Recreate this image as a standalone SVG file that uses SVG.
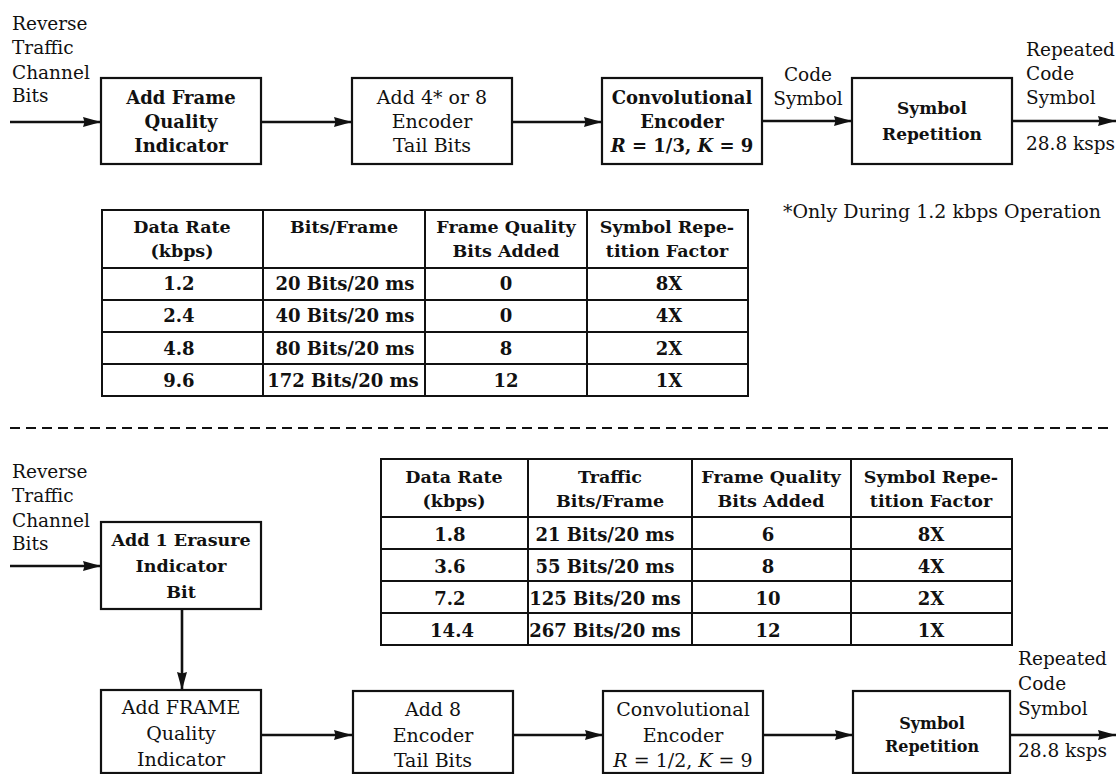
<svg xmlns="http://www.w3.org/2000/svg" width="1117" height="774" viewBox="0 0 1117 774">
<style>
text{font-family:"DejaVu Serif","Liberation Serif",serif;fill:#111}
.lbl{font-size:18.5px}
.bx{font-size:19px;text-anchor:middle}
.bxb{font-size:18px;font-weight:bold;text-anchor:middle}
.th{font-size:17.5px;font-weight:bold;text-anchor:middle}
.td{font-size:18px;font-weight:bold;text-anchor:middle}
.box{fill:#fff;stroke:#111;stroke-width:2.2}
.grid{fill:none;stroke:#111;stroke-width:2}
.conn{stroke:#111;stroke-width:2.6;fill:none}
.dash{stroke:#111;stroke-width:2.2;stroke-dasharray:10 6}
</style>
<defs>
<marker id="arr" markerUnits="userSpaceOnUse" markerWidth="20" markerHeight="11" refX="18" refY="5" orient="auto">
<path d="M0,0 L18,5 L0,10 L1.5,5 z" fill="#111"/>
</marker>
</defs>

<g id="connectors">
<line class="conn" x1="10" y1="122" x2="101" y2="122" marker-end="url(#arr)"/>
<line class="conn" x1="261" y1="122" x2="352" y2="122" marker-end="url(#arr)"/>
<line class="conn" x1="512" y1="122" x2="602" y2="122" marker-end="url(#arr)"/>
<line class="conn" x1="762" y1="121" x2="852" y2="121" marker-end="url(#arr)"/>
<line class="conn" x1="1012" y1="121" x2="1116" y2="121" marker-end="url(#arr)"/>
<line class="conn" x1="10" y1="566" x2="101" y2="566" marker-end="url(#arr)"/>
<line class="conn" x1="182" y1="609" x2="182" y2="690" marker-end="url(#arr)"/>
<line class="conn" x1="261" y1="735" x2="352" y2="735" marker-end="url(#arr)"/>
<line class="conn" x1="513" y1="735" x2="603" y2="735" marker-end="url(#arr)"/>
<line class="conn" x1="763" y1="735" x2="853" y2="735" marker-end="url(#arr)"/>
<line class="conn" x1="1010" y1="735" x2="1116" y2="735" marker-end="url(#arr)"/>
</g>

<g id="labels">
<text class="lbl" x="12" y="30">Reverse</text>
<text class="lbl" x="12" y="54">Traffic</text>
<text class="lbl" x="12" y="79">Channel</text>
<text class="lbl" x="12" y="102">Bits</text>
<text class="lbl" x="808" y="81" text-anchor="middle">Code</text>
<text class="lbl" x="808" y="105" text-anchor="middle">Symbol</text>
<text class="lbl" x="1026" y="56">Repeated</text>
<text class="lbl" x="1026" y="80">Code</text>
<text class="lbl" x="1026" y="104">Symbol</text>
<text class="lbl" x="1026" y="150">28.8 ksps</text>
<text class="lbl" x="783" y="218" style="font-size:19px">*Only During 1.2 kbps Operation</text>
<text class="lbl" x="12" y="478">Reverse</text>
<text class="lbl" x="12" y="502">Traffic</text>
<text class="lbl" x="12" y="527">Channel</text>
<text class="lbl" x="12" y="550">Bits</text>
<text class="lbl" x="1018" y="665">Repeated</text>
<text class="lbl" x="1018" y="690">Code</text>
<text class="lbl" x="1018" y="715">Symbol</text>
<text class="lbl" x="1018" y="757">28.8 ksps</text>
</g>

<line id="separator" class="dash" x1="10" y1="428" x2="1112" y2="428"/>

<g id="n-fqi-top">
<rect class="box" x="101" y="78" width="160" height="86"/>
<text class="bxb" x="181" y="104">Add Frame</text>
<text class="bxb" x="181" y="128">Quality</text>
<text class="bxb" x="181" y="152">Indicator</text>
</g>
<g id="n-tail-top">
<rect class="box" x="352" y="78" width="160" height="86"/>
<text class="bx" x="432" y="104">Add 4* or 8</text>
<text class="bx" x="432" y="128">Encoder</text>
<text class="bx" x="432" y="152">Tail Bits</text>
</g>
<g id="n-conv-top">
<rect class="box" x="602" y="78" width="160" height="86"/>
<text class="bxb" x="682" y="104">Convolutional</text>
<text class="bxb" x="682" y="128">Encoder</text>
<text class="bxb" x="682" y="152"><tspan font-style="italic">R</tspan> = 1/3, <tspan font-style="italic">K</tspan> = 9</text>
</g>
<g id="n-rep-top">
<rect class="box" x="852" y="78" width="160" height="86"/>
<text class="bxb" x="932" y="114" style="font-size:17px">Symbol</text>
<text class="bxb" x="932" y="140" style="font-size:17px">Repetition</text>
</g>

<g id="table-top">
<rect class="grid" x="102" y="210" width="646" height="186"/>
<line class="grid" x1="102" y1="268" x2="748" y2="268"/>
<line class="grid" x1="102" y1="300" x2="748" y2="300"/>
<line class="grid" x1="102" y1="332" x2="748" y2="332"/>
<line class="grid" x1="102" y1="364" x2="748" y2="364"/>
<line class="grid" x1="263" y1="210" x2="263" y2="396"/>
<line class="grid" x1="425" y1="210" x2="425" y2="396"/>
<line class="grid" x1="587" y1="210" x2="587" y2="396"/>
<text class="th" x="182" y="233">Data Rate</text>
<text class="th" x="182" y="257">(kbps)</text>
<text class="th" x="344" y="233">Bits/Frame</text>
<text class="th" x="506" y="233">Frame Quality</text>
<text class="th" x="506" y="257">Bits Added</text>
<text class="th" x="667" y="233">Symbol Repe-</text>
<text class="th" x="667" y="257">tition Factor</text>
<text class="td" x="179" y="290">1.2</text>
<text class="td" x="345" y="290">20 Bits/20 ms</text>
<text class="td" x="506" y="290">0</text>
<text class="td" x="669" y="290">8X</text>
<text class="td" x="179" y="322">2.4</text>
<text class="td" x="345" y="322">40 Bits/20 ms</text>
<text class="td" x="506" y="322">0</text>
<text class="td" x="669" y="322">4X</text>
<text class="td" x="179" y="355">4.8</text>
<text class="td" x="345" y="355">80 Bits/20 ms</text>
<text class="td" x="506" y="355">8</text>
<text class="td" x="669" y="355">2X</text>
<text class="td" x="179" y="387">9.6</text>
<text class="td" x="343" y="387">172 Bits/20 ms</text>
<text class="td" x="506" y="387">12</text>
<text class="td" x="669" y="387">1X</text>
</g>

<g id="table-bottom">
<rect class="grid" x="381" y="459" width="631" height="186"/>
<line class="grid" x1="381" y1="517" x2="1012" y2="517"/>
<line class="grid" x1="381" y1="549" x2="1012" y2="549"/>
<line class="grid" x1="381" y1="581" x2="1012" y2="581"/>
<line class="grid" x1="381" y1="613" x2="1012" y2="613"/>
<line class="grid" x1="528" y1="459" x2="528" y2="645"/>
<line class="grid" x1="692" y1="459" x2="692" y2="645"/>
<line class="grid" x1="851" y1="459" x2="851" y2="645"/>
<text class="th" x="454" y="483">Data Rate</text>
<text class="th" x="454" y="507">(kbps)</text>
<text class="th" x="610" y="483">Traffic</text>
<text class="th" x="610" y="507">Bits/Frame</text>
<text class="th" x="771" y="483">Frame Quality</text>
<text class="th" x="771" y="507">Bits Added</text>
<text class="th" x="931" y="483">Symbol Repe-</text>
<text class="th" x="931" y="507">tition Factor</text>
<text class="td" x="450" y="541">1.8</text>
<text class="td" x="605" y="541">21 Bits/20 ms</text>
<text class="td" x="768" y="541">6</text>
<text class="td" x="931" y="541">8X</text>
<text class="td" x="450" y="573">3.6</text>
<text class="td" x="605" y="573">55 Bits/20 ms</text>
<text class="td" x="768" y="573">8</text>
<text class="td" x="931" y="573">4X</text>
<text class="td" x="450" y="605">7.2</text>
<text class="td" x="605" y="605">125 Bits/20 ms</text>
<text class="td" x="768" y="605">10</text>
<text class="td" x="931" y="605">2X</text>
<text class="td" x="452" y="637">14.4</text>
<text class="td" x="605" y="637">267 Bits/20 ms</text>
<text class="td" x="768" y="637">12</text>
<text class="td" x="931" y="637">1X</text>
</g>

<g id="n-erasure">
<rect class="box" x="101" y="522" width="160" height="87"/>
<text class="bxb" x="181" y="546" style="font-size:17.5px">Add 1 Erasure</text>
<text class="bxb" x="181" y="572" style="font-size:17.5px">Indicator</text>
<text class="bxb" x="181" y="598" style="font-size:17.5px">Bit</text>
</g>
<g id="n-fqi-bottom">
<rect class="box" x="101" y="690" width="160" height="83"/>
<text class="bx" x="181" y="714">Add FRAME</text>
<text class="bx" x="181" y="740">Quality</text>
<text class="bx" x="181" y="766">Indicator</text>
</g>
<g id="n-tail-bottom">
<rect class="box" x="353" y="691" width="160" height="82"/>
<text class="bx" x="433" y="716">Add 8</text>
<text class="bx" x="433" y="742">Encoder</text>
<text class="bx" x="433" y="767">Tail Bits</text>
</g>
<g id="n-conv-bottom">
<rect class="box" x="603" y="691" width="160" height="82"/>
<text class="bx" x="683" y="716">Convolutional</text>
<text class="bx" x="683" y="742">Encoder</text>
<text class="bx" x="683" y="767"><tspan font-style="italic">R</tspan> = 1/2, <tspan font-style="italic">K</tspan> = 9</text>
</g>
<g id="n-rep-bottom">
<rect class="box" x="853" y="691" width="157" height="82"/>
<text class="bxb" x="932" y="729" style="font-size:16px">Symbol</text>
<text class="bxb" x="932" y="752" style="font-size:16px">Repetition</text>
</g>
</svg>
